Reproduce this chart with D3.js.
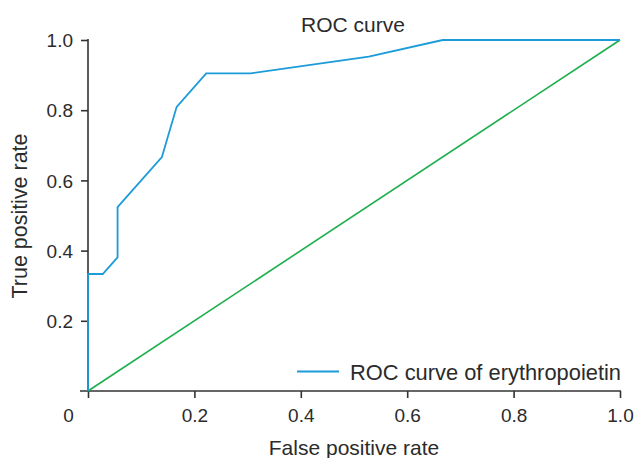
<!DOCTYPE html>
<html>
<head>
<meta charset="utf-8">
<script src="https://cdn.jsdelivr.net/npm/d3@7"></script>
<style>
  html, body { margin: 0; padding: 0; background: #fff; }
  svg { display: block; }
  text { font-family: "Liberation Sans", Arial, sans-serif; fill: #2b2b2b; }
</style>
</head>
<body>
<svg id="chart" width="635" height="458"></svg>
<script>
// Data (21 positives, 36 negatives)
const rocFpr = [0, 0, 1/36, 2/36, 2/36, 5/36, 6/36, 8/36, 11/36, 19/36, 24/36, 1];
const rocTpr = [0, 7/21, 7/21, 8/21, 11/21, 14/21, 17/21, 19/21, 19/21, 20/21, 1, 1];
const refFpr = [0, 1];
const refTpr = [0, 1];
const xTicks = [0, 0.2, 0.4, 0.6, 0.8, 1.0];
const yTicks = [0.2, 0.4, 0.6, 0.8, 1.0];
const titleText = "ROC curve";
const xLabel = "False positive rate";
const yLabel = "True positive rate";
const legendLabel = "ROC curve of erythropoietin";

const svg = d3.select("#chart");
const x0 = 88, x1 = 620, yb = 391, yt = 40;
const x = d3.scaleLinear().domain([0, 1]).range([x0, x1]);
const y = d3.scaleLinear().domain([0, 1]).range([yb, yt]);
const axisColor = "#333";

// X axis
const gx = svg.append("g").attr("transform", `translate(0,${yb})`)
  .call(d3.axisBottom(x).tickValues(xTicks).tickSize(7).tickSizeOuter(0)
    .tickFormat(d => d === 0 ? "0" : d3.format(".1f")(d)));
gx.select(".domain").remove();
gx.append("line").attr("x1", 80).attr("x2", x1 + 1).attr("y1", 0).attr("y2", 0)
  .attr("stroke", axisColor).attr("stroke-width", 1.6);
gx.selectAll(".tick line").attr("stroke", axisColor).attr("stroke-width", 1.6);
gx.selectAll(".tick text").attr("font-size", 19).attr("fill", "#2b2b2b")
  .attr("font-family", "Liberation Sans, Arial, sans-serif").attr("dy", "0")
  .attr("y", 31);
gx.selectAll(".tick").filter(d => d === 0).select("text").attr("x", -20);

// Y axis
const gy = svg.append("g").attr("transform", `translate(${x0},0)`)
  .call(d3.axisLeft(y).tickValues(yTicks).tickSize(7).tickSizeOuter(0)
    .tickFormat(d3.format(".1f")));
gy.select(".domain").remove();
gy.append("line").attr("x1", 0).attr("x2", 0).attr("y1", yt - 1).attr("y2", yb)
  .attr("stroke", axisColor).attr("stroke-width", 1.6);
gy.selectAll(".tick line").attr("stroke", axisColor).attr("stroke-width", 1.6);
gy.selectAll(".tick text").attr("font-size", 19).attr("fill", "#2b2b2b")
  .attr("font-family", "Liberation Sans, Arial, sans-serif")
  .attr("x", -15).attr("dy", "0.35em");

// Lines
const line = d3.line().x(d => x(d[0])).y(d => y(d[1]));
svg.append("path").datum(d3.zip(refFpr, refTpr))
  .attr("d", line).attr("fill", "none").attr("stroke", "#1cae4c").attr("stroke-width", 1.6);
svg.append("path").datum(d3.zip(rocFpr, rocTpr))
  .attr("d", line).attr("fill", "none").attr("stroke", "#1b9bd8").attr("stroke-width", 1.8)
  .attr("stroke-linejoin", "miter");

// Title
svg.append("text").attr("x", 353).attr("y", 32).attr("text-anchor", "middle")
  .attr("font-size", 21).text(titleText);

// Axis labels
svg.append("text").attr("x", 354).attr("y", 455).attr("text-anchor", "middle")
  .attr("font-size", 21).text(xLabel);
svg.append("text").attr("transform", "translate(27,216) rotate(-90)")
  .attr("text-anchor", "middle").attr("font-size", 21.5)
  .attr("textLength", 165).attr("lengthAdjust", "spacingAndGlyphs").text(yLabel);

// Legend
svg.append("line").attr("x1", 297).attr("x2", 339).attr("y1", 371.5).attr("y2", 371.5)
  .attr("stroke", "#1b9bd8").attr("stroke-width", 1.8);
svg.append("text").attr("x", 350).attr("y", 380).attr("font-size", 21.5)
  .attr("textLength", 271).attr("lengthAdjust", "spacingAndGlyphs").text(legendLabel);
</script>
</body>
</html>
